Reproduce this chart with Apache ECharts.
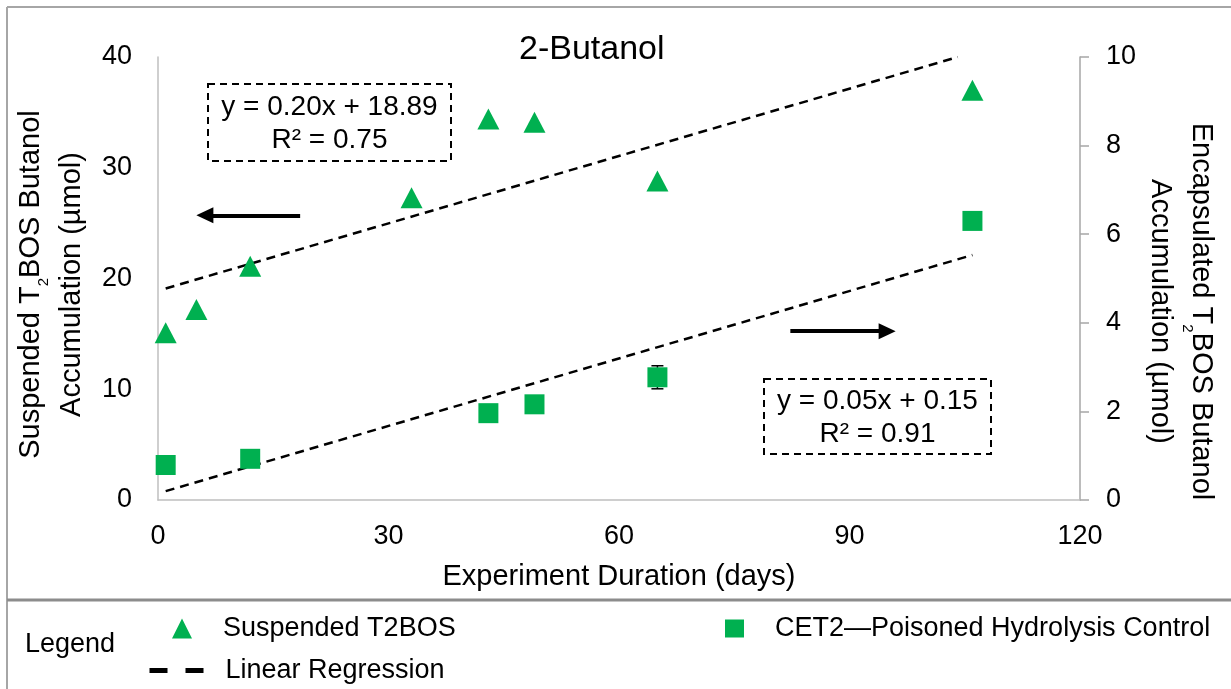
<!DOCTYPE html>
<html><head><meta charset="utf-8">
<script src="https://cdn.jsdelivr.net/npm/echarts@6/dist/echarts.min.js"></script>
<style>html,body{margin:0;padding:0;background:#fff}#c{width:1231px;height:689px}</style>
</head><body><div id="c"></div>
<script>
// ---- data ----
const suspendedDays   = [1, 5, 12, 33, 43, 49, 65, 106];
const suspendedValues = [15.1, 17.2, 21.1, 27.3, 34.4, 34.1, 28.8, 37.0];
const controlDays     = [1, 12, 43, 49, 65, 106];
const controlValues   = [0.79, 0.93, 1.96, 2.16, 2.77, 6.30];
const controlErrors   = [0, 0, 0, 0, 0.26, 0];
const trendSuspended  = [[1, 19.1], [104.1, 40]];
const trendControl    = [[1, 0.2], [106, 5.53]];
const xTicks = {min: 0, max: 120, interval: 30};
const yLeftTicks = {min: 0, max: 40, interval: 10};
const yRightTicks = {min: 0, max: 10, interval: 2};
const eqSuspended = ['y = 0.20x + 18.89', 'R² = 0.75'];
const eqControl = ['y = 0.05x + 0.15', 'R² = 0.91'];

const FONT = '"Liberation Sans", Arial, sans-serif';
const GREEN = '#00B050';
const chart = echarts.init(document.getElementById('c'));

const suspData = suspendedDays.map((d, i) => [d, suspendedValues[i]]);
const ctrlData = controlDays.map((d, i) => [d, controlValues[i]]);
const errData = controlDays.map((d, i) => [d, controlValues[i] - controlErrors[i], controlValues[i] + controlErrors[i], controlErrors[i]])
  .filter(r => r[3] > 0);

function eqBox(x, y, w, h, lines) {
  return {
    type: 'group', silent: true, children: [
      {type: 'rect', shape: {x: x, y: y, width: w, height: h},
       style: {fill: 'none', stroke: '#000', lineWidth: 2, lineDash: [7, 5]}},
      {type: 'text', x: x + w / 2, y: y + h / 2 - 15,
       style: {text: lines[0], font: '28px ' + FONT, fill: '#000', align: 'center', verticalAlign: 'middle'}},
      {type: 'text', x: x + w / 2, y: y + h / 2 + 18,
       style: {text: lines[1], font: '28px ' + FONT, fill: '#000', align: 'center', verticalAlign: 'middle'}}
    ]
  };
}

const richName = {
  a: {fontSize: 29, lineHeight: 41, color: '#000', fontFamily: FONT},
  s: {fontSize: 15, lineHeight: 24, verticalAlign: 'bottom', color: '#000', fontFamily: FONT}
};

chart.setOption({
  backgroundColor: '#fff',
  animation: false,
  textStyle: {fontFamily: FONT},
  title: {
    text: '2-Butanol', left: 519, top: 33, padding: 0,
    textStyle: {fontSize: 34, fontWeight: 'normal', color: '#000', fontFamily: FONT}
  },
  grid: {left: 158, right: 151, top: 57, bottom: 189, containLabel: false, outerBoundsMode: 'none'},
  xAxis: {
    type: 'value', min: xTicks.min, max: xTicks.max, interval: xTicks.interval,
    name: 'Experiment Duration (days)', nameLocation: 'middle', nameGap: 62, nameMoveOverlap: false,
    nameTextStyle: {fontSize: 29, color: '#000', fontFamily: FONT},
    axisLine: {show: true, lineStyle: {color: '#bfbfbf', width: 1.5}},
    axisTick: {show: false},
    axisLabel: {fontSize: 27, color: '#000', margin: 23, fontFamily: FONT},
    splitLine: {show: false}
  },
  yAxis: [
    {
      type: 'value', position: 'left', min: yLeftTicks.min, max: yLeftTicks.max, interval: yLeftTicks.interval,
      name: '{a|Suspended T}{s|2}{a|BOS Butanol}\n{a|Accumulation (µmol)}',
      nameLocation: 'middle', nameGap: 66, nameMoveOverlap: false,
      nameTextStyle: {rich: richName, lineHeight: 41, padding: [0, 12, 0, 0]},
      axisLine: {show: true, lineStyle: {color: '#bfbfbf', width: 1.5}},
      axisTick: {show: false},
      axisLabel: {fontSize: 27, color: '#000', margin: 26, fontFamily: FONT},
      splitLine: {show: false}
    },
    {
      type: 'value', position: 'right', min: yRightTicks.min, max: yRightTicks.max, interval: yRightTicks.interval,
      name: '{a|Encapsulated T}{s|2}{a|BOS Butanol}\n{a|Accumulation (µmol)}',
      nameLocation: 'middle', nameGap: 59, nameRotate: -90, nameMoveOverlap: false,
      nameTextStyle: {rich: richName, lineHeight: 41, padding: [0, 0, 0, 66]},
      axisLine: {show: true, lineStyle: {color: '#a6a6a6', width: 1.5}},
      axisTick: {show: true, inside: false, length: 9, lineStyle: {color: '#a6a6a6', width: 1.5}},
      axisLabel: {fontSize: 27, color: '#000', margin: 26, fontFamily: FONT},
      splitLine: {show: false}
    }
  ],
  legend: [
    {left: 172, top: 615, padding: 0, data: ['Suspended T2BOS'], selectedMode: false, itemWidth: 20, itemHeight: 20,
     textStyle: {fontSize: 27, color: '#000', fontFamily: FONT, padding: [0, 0, 0, 26]}},
    {left: 147, top: 657, padding: 0, selectedMode: false, itemWidth: 56, itemHeight: 14,
     data: [{name: 'Linear Regression', itemStyle: {opacity: 0}}],
     lineStyle: {width: 5, type: [18, 18], color: '#000'},
     textStyle: {fontSize: 27, color: '#000', fontFamily: FONT, padding: [0, 0, 0, 15]}},
    {left: 725, top: 615, padding: 0, data: ['CET2—Poisoned Hydrolysis Control'], selectedMode: false, itemWidth: 19, itemHeight: 18,
     textStyle: {fontSize: 27, color: '#000', fontFamily: FONT, padding: [0, 0, 0, 26]}}
  ],
  series: [
    {
      name: 'Linear Regression', type: 'line', yAxisIndex: 0, data: trendSuspended,
      symbol: 'none', silent: true, z: 2, itemStyle: {color: '#000'},
      lineStyle: {color: '#000', width: 2.5, type: [9, 6]}
    },
    {
      name: 'Linear Regression', type: 'line', yAxisIndex: 1, data: trendControl,
      symbol: 'none', silent: true, z: 2, itemStyle: {color: '#000'},
      lineStyle: {color: '#000', width: 2.5, type: [9, 6]}
    },
    {
      name: 'Suspended T2BOS', type: 'scatter', yAxisIndex: 0, data: suspData,
      symbol: 'triangle', symbolSize: [22, 21], itemStyle: {color: GREEN, opacity: 1}, z: 4,
      markLine: {
        silent: true, symbol: ['none', 'triangle'], symbolSize: [16, 17],
        label: {show: false}, lineStyle: {color: '#000', width: 4, type: 'solid'},
        data: [[{coord: [18.5, 25.7]}, {coord: [6.1, 25.7]}]]
      }
    },
    {
      name: 'error', type: 'custom', yAxisIndex: 1, data: errData, silent: true, z: 3,
      renderItem: function (params, api) {
        const x = api.value(0), lo = api.value(1), hi = api.value(2);
        const p1 = api.coord([x, hi]), p2 = api.coord([x, lo]);
        const w = 6, st = {stroke: '#000', lineWidth: 1.5};
        return {type: 'group', children: [
          {type: 'line', shape: {x1: p1[0], y1: p1[1], x2: p2[0], y2: p2[1]}, style: st},
          {type: 'line', shape: {x1: p1[0] - w, y1: p1[1], x2: p1[0] + w, y2: p1[1]}, style: st},
          {type: 'line', shape: {x1: p2[0] - w, y1: p2[1], x2: p2[0] + w, y2: p2[1]}, style: st}
        ]};
      }
    },
    {
      name: 'CET2—Poisoned Hydrolysis Control', type: 'scatter', yAxisIndex: 1, data: ctrlData,
      symbol: 'rect', symbolSize: 20, itemStyle: {color: GREEN, opacity: 1}, z: 4,
      markLine: {
        silent: true, symbol: ['none', 'triangle'], symbolSize: [16, 17],
        label: {show: false}, lineStyle: {color: '#000', width: 4, type: 'solid'},
        data: [[{coord: [82.3, 3.81]}, {coord: [94.9, 3.81]}]]
      }
    }
  ],
  graphic: [
    {type: 'line', silent: true, shape: {x1: 7, y1: 7, x2: 1231, y2: 7}, style: {stroke: '#a6a6a6', lineWidth: 2}},
    {type: 'line', silent: true, shape: {x1: 7, y1: 7, x2: 7, y2: 689}, style: {stroke: '#a6a6a6', lineWidth: 2}},
    {type: 'line', silent: true, shape: {x1: 7, y1: 600, x2: 1231, y2: 600}, style: {stroke: '#8c8c8c', lineWidth: 3}},
    {type: 'text', silent: true, x: 25, y: 645,
     style: {text: 'Legend', font: '27px ' + FONT, fill: '#000', align: 'left', verticalAlign: 'middle'}},
    eqBox(208, 84, 243, 77, eqSuspended),
    eqBox(764, 379, 227, 75, eqControl)
  ]
});
</script></body></html>
